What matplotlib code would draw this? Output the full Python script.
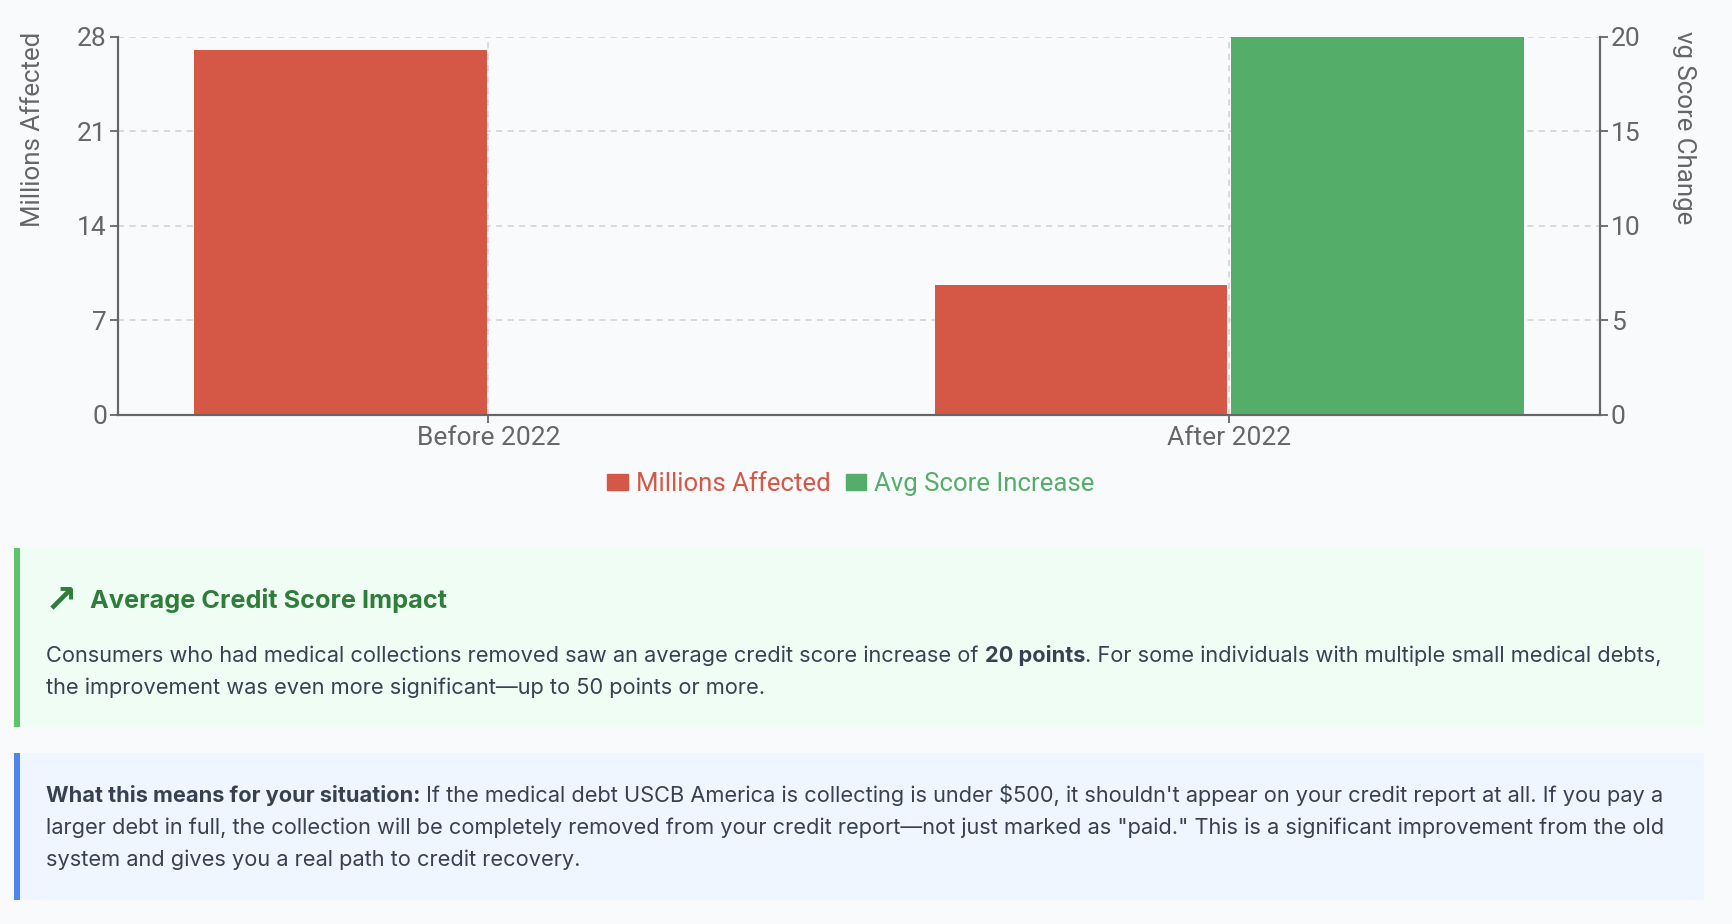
import matplotlib
matplotlib.use("Agg")
import matplotlib.pyplot as plt
from matplotlib.patches import Rectangle, Patch
import numpy as np

# chart data
categories = ["Before 2022", "After 2022"]
millions_affected = [27, 9.6]
avg_score_increase = [0, 20]
left_ticks = [0, 7, 14, 21, 28]
right_ticks = [0, 5, 10, 15, 20]

# text of the two info boxes: (text, weight) runs per line
impact_title = "Average Credit Score Impact"
impact_lines = [
    [("Consumers who had medical collections removed saw an average credit score increase of ", "normal"),
     ("20 points", "bold"),
     (". For some individuals with multiple small medical debts,", "normal")],
    [("the improvement was even more significant\u2014up to 50 points or more.", "normal")],
]
situation_lines = [
    [("What this means for your situation:", "bold"),
     (" If the medical debt USCB America is collecting is under $500, it shouldn't appear on your credit report at all. If you pay a", "normal")],
    [("larger debt in full, the collection will be completely removed from your credit report\u2014not just marked as \"paid.\" This is a significant improvement from the old", "normal")],
    [("system and gives you a real path to credit recovery.", "normal")],
]

W, H = 1732, 924
BG = "#f8fafc"
RED = "#d55745"
GREEN = "#55ad6a"
AXIS = "#666666"
GRID = "#d0d0d0"
TEXT = "#374151"

plt.rcParams["font.family"] = ["Roboto", "DejaVu Sans"]

fig = plt.figure(figsize=(W / 100, H / 100), dpi=100, facecolor=BG)


def fx(px):
    return px / W


def fy(py):
    return 1 - py / H


ax = fig.add_axes([fx(118), fy(415), (1599.5 - 118) / W, (415 - 36.5) / H])
ax.set_facecolor(BG)
ax2 = ax.twinx()

x = np.arange(len(categories))
ax.bar(x - 0.2, millions_affected, width=0.395, color=RED, zorder=2)
ax2.bar(x + 0.2, avg_score_increase, width=0.395, color=GREEN, zorder=2)

ax.set_xlim(-0.5, 1.5)
ax.set_ylim(0, 28)
ax2.set_ylim(0, 20)
ax.set_yticks(left_ticks)
ax2.set_yticks(right_ticks)
ax.set_xticks(x, categories)
ax.grid(True, linestyle=(0, (4, 3.5)), color=GRID, linewidth=1.1)
ax.set_axisbelow(True)
for a in (ax, ax2):
    for s in a.spines.values():
        s.set_color(AXIS)
        s.set_linewidth(1.5)
    a.spines["top"].set_visible(False)
    a.tick_params(colors=AXIS, labelcolor=AXIS, labelsize=19, length=6, width=1.3, pad=2)
ax.tick_params(axis="x", pad=2)

fig.text(fx(33), fy(129), "Millions Affected", rotation=90, ha="center", va="center",
         color=AXIS, fontsize=18.6)
fig.text(fx(1684), fy(128), "vg Score Change", rotation=270, ha="center", va="center",
         color=AXIS, fontsize=18.6)

handles = [Patch(color=RED, label="Millions Affected"), Patch(color=GREEN, label="Avg Score Increase")]
fig.legend(handles=handles, loc="center", bbox_to_anchor=(fx(851), fy(484)), ncol=2,
           frameon=False, fontsize=18.5, labelcolor=[RED, GREEN], handlelength=0.8,
           handleheight=0.6, handletextpad=0.3, columnspacing=0.6)


# info boxes
def panel(y0, y1, bg, border):
    fig.add_artist(Rectangle((fx(14), fy(y1)), (1704 - 14) / W, (y1 - y0) / H,
                             transform=fig.transFigure, facecolor=bg, edgecolor="none"))
    fig.add_artist(Rectangle((fx(14), fy(y1)), 6 / W, (y1 - y0) / H,
                             transform=fig.transFigure, facecolor=border, edgecolor="none"))


renderer = fig.canvas.get_renderer()


def runs(x_px, base_px, parts, size=15.7, color=TEXT):
    xpos = fx(x_px)
    for s, weight in parts:
        t = fig.text(xpos, fy(base_px), s, fontsize=size, fontweight=weight, color=color,
                     family=["Inter", "DejaVu Sans"], ha="left", va="baseline")
        xpos += t.get_window_extent(renderer).width / W


panel(548, 727, "#f0fdf4", "#5cc46a")
panel(753, 900, "#eff6ff", "#4f84ec")

fig.text(fx(61.5), fy(600.5), "\u2197", fontsize=28, fontweight="bold", color="#2f7d3b",
         family="DejaVu Sans", ha="center", va="center")
runs(89.5, 608, [(impact_title, "bold")], size=18.2, color="#2f7d3b")
for i, line in enumerate(impact_lines):
    runs(46, 662 + i * 32, line)
for i, line in enumerate(situation_lines):
    runs(46, 802 + i * 32, line)

fig.savefig("out.png", dpi=100, facecolor=BG)
